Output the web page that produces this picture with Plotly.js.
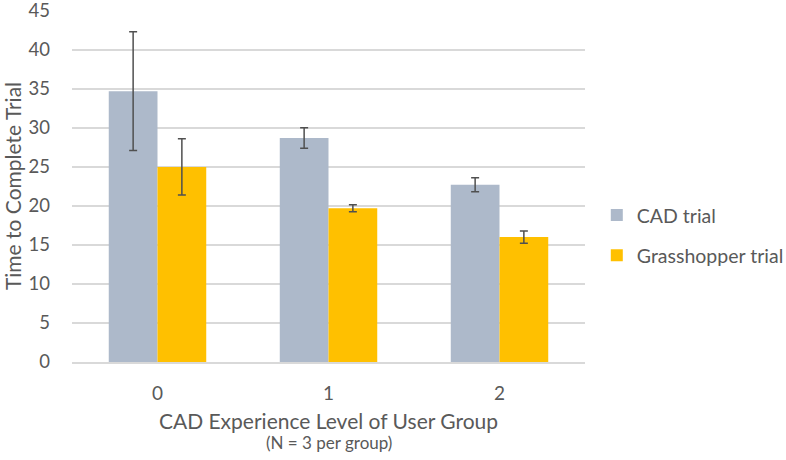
<!DOCTYPE html>
<html>
<head>
<meta charset="utf-8">
<script src="https://cdn.plot.ly/plotly-3.0.1.min.js"></script>
<style>html,body{margin:0;padding:0;background:#fff;}#chart{width:786px;height:460px;}</style>
</head>
<body>
<div id="chart"></div>
<script>
const categories = ["0", "1", "2"];
const cadValues = [34.7, 28.7, 22.7];
const cadErrors = [7.6, 1.3, 0.9];
const grassValues = [25.0, 19.7, 16.0];
const grassErrors = [3.6, 0.45, 0.8];
const seriesNames = ["CAD trial", "Grasshopper trial"];
const yTicks = [0, 5, 10, 15, 20, 25, 30, 35, 40, 45];

const font = "Lato, 'Open Sans', sans-serif";
const grey = "#595959";

const traces = [
  {
    type: "bar", name: seriesNames[0], x: categories, y: cadValues,
    marker: {color: "#adb9ca"}, legendgroup: "a",
    error_y: {type: "data", array: cadErrors, visible: true, color: "#505050", thickness: 1.5, width: 4}
  },
  {
    type: "bar", name: seriesNames[1], x: categories, y: grassValues,
    marker: {color: "#ffc000"}, legendgroup: "b",
    error_y: {type: "data", array: grassErrors, visible: true, color: "#505050", thickness: 1.5, width: 4}
  }
];

const layout = {
  width: 786, height: 460,
  margin: {l: 72, r: 201, t: 10, b: 98, autoexpand: false},
  paper_bgcolor: "#fff", plot_bgcolor: "#fff",
  font: {family: font, color: grey, size: 16},
  barmode: "group", bargap: 0.43, bargroupgap: 0,
  xaxis: {
    type: "category", tickfont: {size: 19, color: grey}, ticks: "", showgrid: false,
    showline: true, linecolor: "#d9d9d9", linewidth: 1.5, ticklabelstandoff: 14,
    title: {text: "CAD Experience Level of User Group", font: {size: 21, color: grey}, standoff: 11}
  },
  yaxis: {
    range: [0, 45.1], tickvals: yTicks, ticktext: yTicks.map(String),
    tickfont: {size: 18.5, color: grey}, gridcolor: "#d9d9d9", gridwidth: 1.5,
    zeroline: false, showline: false, ticks: "", ticklabelstandoff: 21,
    ticklabeloverflow: "allow",
    title: {text: "Time to Complete Trial", font: {size: 21, color: grey}, standoff: 4}
  },
  legend: {
    x: 1.023, xanchor: "left", y: 0.36, yanchor: "middle",
    font: {size: 19.5, color: grey}, traceorder: "grouped", tracegroupgap: 12,
    itemwidth: 30, bgcolor: "rgba(0,0,0,0)"
  },
  showlegend: true,
  annotations: [{
    text: "(N = 3 per group)", xref: "paper", yref: "paper", x: 0.5, y: 0,
    yshift: -80, showarrow: false, font: {size: 17, color: grey}, yanchor: "middle"
  }]
};

Plotly.newPlot("chart", traces, layout, {displayModeBar: false, staticPlot: true});
</script>
</body>
</html>
